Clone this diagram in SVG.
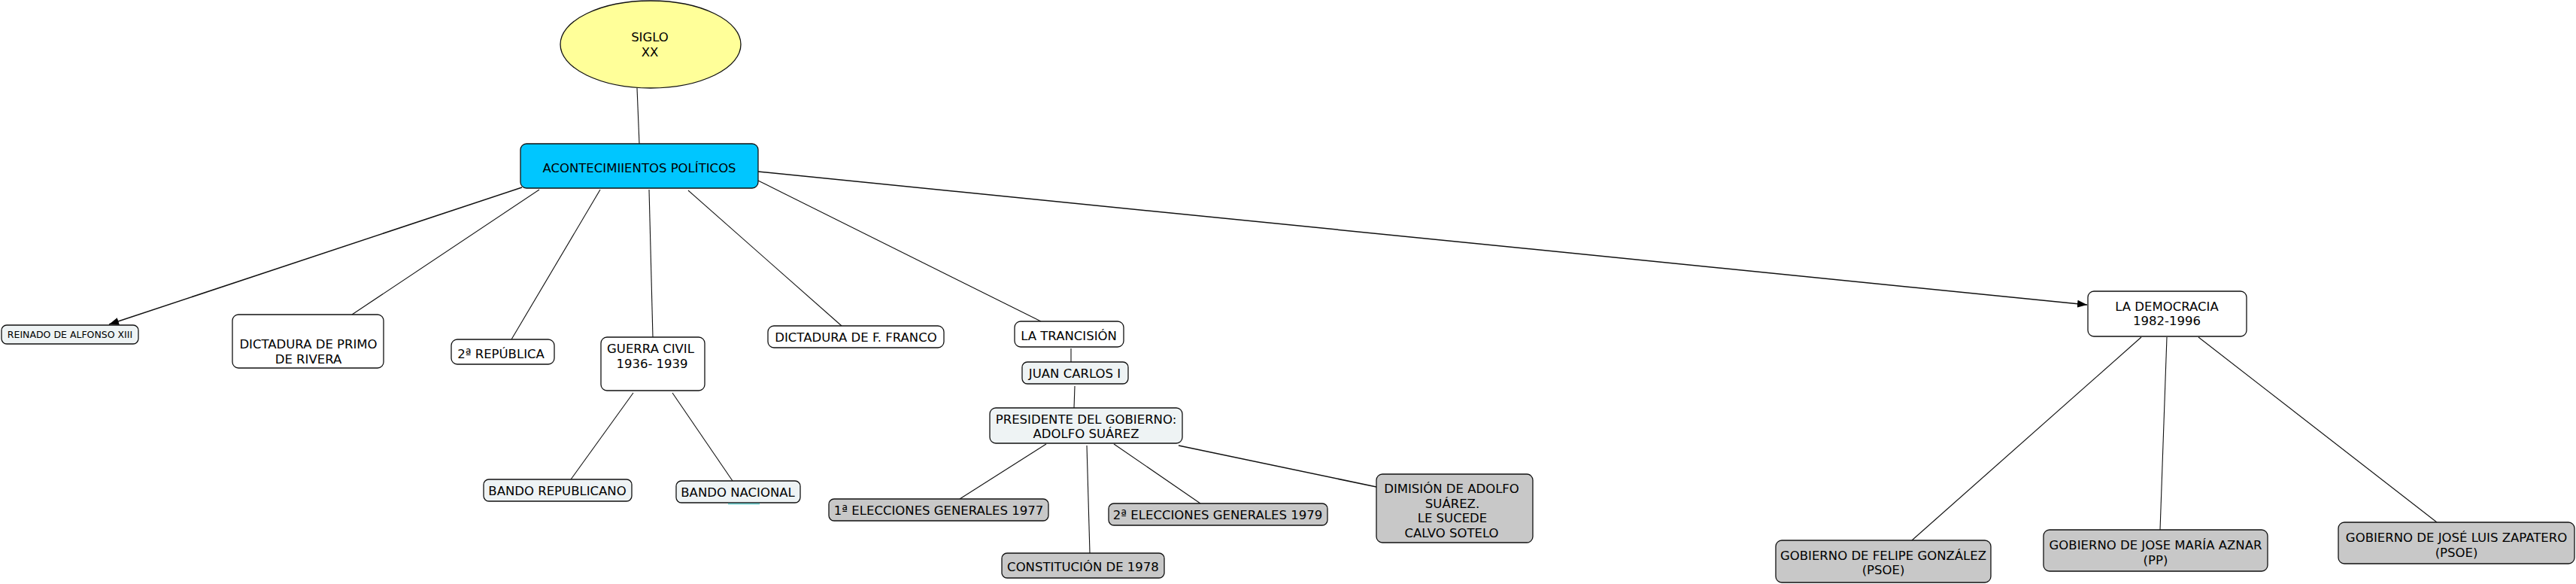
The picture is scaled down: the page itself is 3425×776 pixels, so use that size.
<svg xmlns="http://www.w3.org/2000/svg" width="3425" height="776" viewBox="0 0 3425 776">
<style>
text{font-family:"DejaVu Sans","Verdana",sans-serif;font-size:16.5px;fill:#000;text-anchor:middle}
.s{font-size:12.5px}
.n{stroke:#111;stroke-width:1.3}
.w{fill:#ffffff}
.l{fill:#eef3f4}
.g{fill:#c8c8c8}
.c{fill:#00c6ff}
#connectors line{stroke:#111;stroke-width:1.1;fill:none}
#connectors line.a{stroke-width:1.5}
</style>
<defs>
<marker id="arr" markerUnits="userSpaceOnUse" markerWidth="14" markerHeight="10" refX="13" refY="5" orient="auto"><path d="M0,0 L13,5 L0,10 z" fill="#000"/></marker>
</defs>
<rect width="3425" height="776" fill="#ffffff"/>
<g id="connectors">
<line x1="847" y1="117" x2="850" y2="191"/>
<line class="a" x1="694" y1="249" x2="145" y2="431" marker-end="url(#arr)"/>
<line x1="717" y1="252" x2="468" y2="418"/>
<line x1="798" y1="252" x2="680" y2="451"/>
<line x1="863" y1="252" x2="868" y2="448"/>
<line x1="915" y1="253" x2="1119" y2="433"/>
<line x1="1008" y1="240" x2="1384" y2="427"/>
<line class="a" x1="1008" y1="228" x2="2775" y2="405" marker-end="url(#arr)"/>
<line x1="842" y1="522" x2="759" y2="637"/>
<line x1="894" y1="522" x2="974" y2="639"/>
<line x1="1424" y1="463" x2="1424" y2="481"/>
<line x1="1429" y1="513" x2="1428" y2="542"/>
<line x1="1391" y1="590" x2="1276" y2="663"/>
<line x1="1445" y1="592" x2="1449" y2="735"/>
<line x1="1481" y1="590" x2="1596" y2="669"/>
<line class="a" x1="1567" y1="592" x2="1830" y2="647"/>
<line x1="2847" y1="448" x2="2542" y2="718"/>
<line x1="2881" y1="448" x2="2872" y2="704"/>
<line x1="2923" y1="448" x2="3240" y2="694"/>
</g>
<g id="siglo">
<ellipse class="n" cx="865" cy="59" rx="120" ry="58" fill="#ffff99"/>
<text x="864" y="55">SIGLO</text>
<text x="864" y="75">XX</text>
</g>
<g id="acontecimientos">
<rect class="n c" x="692" y="191" width="316" height="59" rx="8"/>
<text x="850" y="229">ACONTECIMIIENTOS POLÍTICOS</text>
</g>
<g id="reinado">
<rect class="n l" x="2" y="432" width="182" height="25" rx="7"/>
<text class="s" x="93" y="449">REINADO DE ALFONSO XIII</text>
</g>
<g id="primo">
<rect class="n w" x="309" y="418" width="201" height="71" rx="8"/>
<text x="410" y="463">DICTADURA DE PRIMO</text>
<text x="410" y="483">DE RIVERA</text>
</g>
<g id="republica">
<rect class="n w" x="600" y="451" width="137" height="33" rx="8"/>
<text x="666" y="476">2ª REPÚBLICA</text>
</g>
<g id="guerra">
<rect class="n w" x="799" y="448" width="138" height="71" rx="8"/>
<text x="865" y="469">GUERRA CIVIL</text>
<text x="867" y="489">1936- 1939</text>
</g>
<g id="franco">
<rect class="n w" x="1021" y="433" width="234" height="29" rx="8"/>
<text x="1138" y="454">DICTADURA DE F. FRANCO</text>
</g>
<g id="bando-republicano">
<rect class="n l" x="643" y="637" width="197" height="29" rx="7"/>
<text x="741" y="658">BANDO REPUBLICANO</text>
</g>
<g id="bando-nacional">
<rect class="n l" x="899" y="639" width="165" height="29" rx="7"/>
<text x="981" y="660">BANDO NACIONAL</text>
<line x1="968" y1="669.5" x2="1010" y2="669.5" stroke="#5cc8c8" stroke-width="1.5"/>
</g>
<g id="transicion">
<rect class="n w" x="1349" y="427" width="145" height="34" rx="8"/>
<text x="1421" y="452">LA TRANCISIÓN</text>
</g>
<g id="juan-carlos">
<rect class="n l" x="1359" y="481" width="141" height="29" rx="7"/>
<text x="1429" y="502">JUAN CARLOS I</text>
</g>
<g id="presidente">
<rect class="n l" x="1316" y="542" width="256" height="47" rx="8"/>
<text x="1444" y="563">PRESIDENTE DEL GOBIERNO:</text>
<text x="1444" y="582">ADOLFO SUÁREZ</text>
</g>
<g id="elecciones-1977">
<rect class="n g" x="1102" y="663" width="292" height="29" rx="7"/>
<text x="1248" y="684">1ª ELECCIONES GENERALES 1977</text>
</g>
<g id="elecciones-1979">
<rect class="n g" x="1474" y="669" width="291" height="29" rx="7"/>
<text x="1619" y="690">2ª ELECCIONES GENERALES 1979</text>
</g>
<g id="constitucion">
<rect class="n g" x="1332" y="735" width="216" height="33" rx="7"/>
<text x="1440" y="759">CONSTITUCIÓN DE 1978</text>
</g>
<g id="dimision">
<rect class="n g" x="1830" y="630" width="208" height="91" rx="8"/>
<text x="1930" y="655">DIMISIÓN DE ADOLFO</text>
<text x="1931" y="675">SUÁREZ.</text>
<text x="1931" y="694">LE SUCEDE</text>
<text x="1930" y="714">CALVO SOTELO</text>
</g>
<g id="democracia">
<rect class="n w" x="2776" y="387" width="211" height="60" rx="8"/>
<text x="2881" y="413">LA DEMOCRACIA</text>
<text x="2881" y="432">1982-1996</text>
</g>
<g id="felipe">
<rect class="n g" x="2361" y="718" width="286" height="56" rx="8"/>
<text x="2504" y="744">GOBIERNO DE FELIPE GONZÁLEZ</text>
<text x="2504" y="763">(PSOE)</text>
</g>
<g id="aznar">
<rect class="n g" x="2717" y="704" width="298" height="55" rx="8"/>
<text x="2866" y="730">GOBIERNO DE JOSE MARÍA AZNAR</text>
<text x="2866" y="750">(PP)</text>
</g>
<g id="zapatero">
<rect class="n g" x="3109" y="694" width="314" height="55" rx="8"/>
<text x="3266" y="720">GOBIERNO DE JOSÉ LUIS ZAPATERO</text>
<text x="3266" y="740">(PSOE)</text>
</g>
</svg>
